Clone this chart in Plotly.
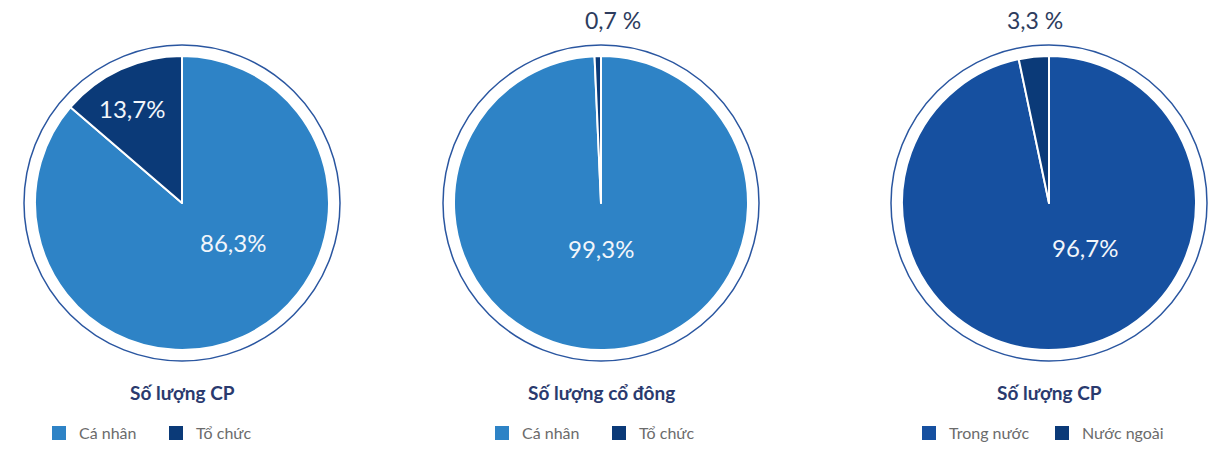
import plotly.graph_objects as go

W, H = 1220, 450

# ---- data ----
titles = ["Số lượng CP", "Số lượng cổ đông", "Số lượng CP"]
labels_1 = ["Cá nhân", "Tổ chức"]
values_1 = [86.3, 13.7]
labels_2 = ["Cá nhân", "Tổ chức"]
values_2 = [99.3, 0.7]
labels_3 = ["Trong nước", "Nước ngoài"]
values_3 = [96.7, 3.3]
text_1 = ["86,3%", "13,7%"]
text_2 = ["99,3%", "0,7 %"]
text_3 = ["96,7%", "3,3 %"]

colors_1 = ["#2E83C6", "#0B3A78"]
colors_2 = ["#2E83C6", "#0B3A78"]
colors_3 = ["#1650A0", "#0B3A78"]

centers_x = [182, 601, 1049]
center_y = 203
R_PIE = 147
R_RING = 158

def px(x):
    return x / W

def py(y):
    return 1 - y / H

fig = go.Figure()

pies = [(labels_1, values_1, colors_1), (labels_2, values_2, colors_2), (labels_3, values_3, colors_3)]
legend_names = ["legend", "legend2", "legend3"]

# legend-only proxies (solid legend squares), hidden beneath the real pies
for i, (lab, val, col) in enumerate(pies):
    cx = centers_x[i]
    fig.add_trace(go.Pie(
        labels=lab, values=val, sort=False, direction="clockwise",
        marker=dict(colors=col, line=dict(color=col, width=2)),
        textinfo="none", hoverinfo="skip",
        domain=dict(x=[px(cx - 0.2), px(cx + 0.2)], y=[py(center_y + 0.2), py(center_y - 0.2)]),
        legend=legend_names[i], legendgroup="g%d" % i, showlegend=True,
    ))

for i, (lab, val, col) in enumerate(pies):
    cx = centers_x[i]
    fig.add_trace(go.Pie(
        labels=lab, values=val, sort=False, direction="clockwise", rotation=0,
        marker=dict(colors=col, line=dict(color="white", width=2)),
        textinfo="none", hoverinfo="label+percent",
        domain=dict(x=[px(cx - R_PIE), px(cx + R_PIE)], y=[py(center_y + R_PIE), py(center_y - R_PIE)]),
        showlegend=False,
    ))
    fig.add_shape(type="circle", xref="paper", yref="paper",
                  x0=px(cx - R_RING), x1=px(cx + R_RING),
                  y0=py(center_y + R_RING), y1=py(center_y - R_RING),
                  line=dict(color="#2A56A0", width=1.5), layer="above")
    fig.add_annotation(text="<b>%s</b>" % titles[i], x=px(cx), y=py(392), xref="paper", yref="paper",
                       showarrow=False, xanchor="center", yanchor="middle",
                       font=dict(family="Lato", size=19, color="#2A3A6E"))

annot_font_in = dict(family="Lato", size=24, color="#F2F6FB")
annot_font_out = dict(family="Lato", size=23, color="#2D3C5E")
# inside / outside labels
label_specs = [
    (text_1[0], 233, 242, annot_font_in),
    (text_1[1], 132, 108, annot_font_in),
    (text_2[0], 601, 248, annot_font_in),
    (text_2[1], 613, 20, annot_font_out),
    (text_3[0], 1085, 247, annot_font_in),
    (text_3[1], 1035, 20, annot_font_out),
]
for t, x, y, f in label_specs:
    fig.add_annotation(text=t, x=px(x), y=py(y), xref="paper", yref="paper",
                       showarrow=False, xanchor="center", yanchor="middle", font=f)

legend_left = [39, 482, 909]
legend_entry = [72, 72, 88]
leg_common = dict(orientation="h", xanchor="left", yanchor="bottom", y=0,
                  font=dict(family="Lato", size=16, color="#6B6B6B"),
                  bgcolor="rgba(0,0,0,0)", itemclick=False, itemdoubleclick=False,
                  entrywidthmode="pixels", traceorder="normal")
fig.update_layout(
    width=W, height=H, margin=dict(l=0, r=0, t=0, b=0),
    paper_bgcolor="white", plot_bgcolor="white",
    legend=dict(x=px(legend_left[0]), entrywidth=legend_entry[0], **leg_common),
    legend2=dict(x=px(legend_left[1]), entrywidth=legend_entry[1], **leg_common),
    legend3=dict(x=px(legend_left[2]), entrywidth=legend_entry[2], **leg_common),
    font=dict(family="Lato"),
)

fig.write_html("out.html")
